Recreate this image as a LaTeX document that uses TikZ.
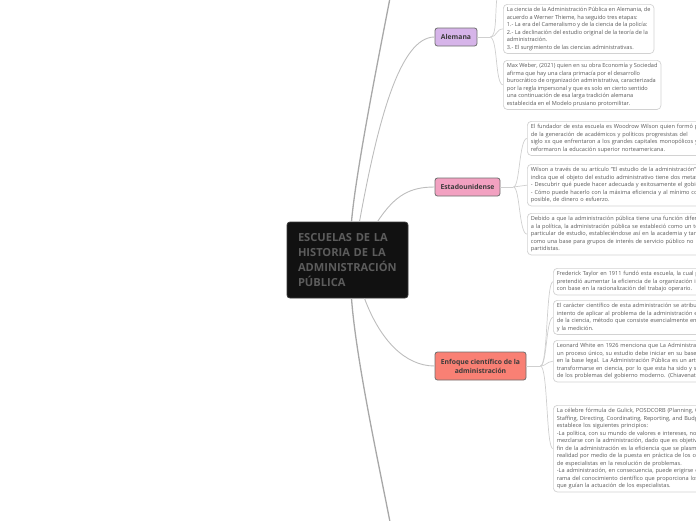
\documentclass[tikz,border=0pt]{standalone}
\usepackage{fontspec}
\setmainfont{Open Sans}
\usetikzlibrary{positioning}
\definecolor{rootfill}{HTML}{111111}
\definecolor{rootline}{HTML}{3A3A3A}
\definecolor{roottext}{HTML}{5C5C5C}
\definecolor{alefill}{HTML}{D6B4E9}
\definecolor{estfill}{HTML}{F2A1C1}
\definecolor{enffill}{HTML}{F98074}
\definecolor{branchline}{HTML}{6E6E6E}
\definecolor{branchtext}{HTML}{3B3B3B}
\definecolor{noteline}{HTML}{D2D2D2}
\definecolor{notetext}{HTML}{5A5A5A}
\definecolor{trunkgray}{HTML}{A8A8A8}
\definecolor{linkgray}{HTML}{BDBDBD}
\definecolor{twiggray}{HTML}{CFCFCF}

\begin{document}
\begin{tikzpicture}[x=1pt, y=-1pt,
    every node/.style={font=\fontsize{5.6}{7.5}\selectfont, text=notetext},
    note/.style={draw=noteline, fill=white, rounded corners=4pt, line width=0.7pt,
        anchor=north west, align=left, inner xsep=3.5pt, inner ysep=3pt},
    branch/.style={draw=branchline, line width=0.8pt, rounded corners=2.5pt,
        font=\fontsize{6.8}{9}\selectfont\bfseries, text=branchtext,
        inner sep=0pt, minimum height=18pt, align=center},
    trunk/.style={draw=trunkgray, line width=1.3pt},
    link/.style={draw=linkgray, line width=0.9pt},
    twig/.style={draw=twiggray, line width=0.7pt},
]
\useasboundingbox (0,0) rectangle (696,520);
\clip (0,0) rectangle (696,520);

% ---------------- root
\node[draw=rootline, fill=rootfill, rounded corners=3pt, line width=0.8pt,
      minimum width=121pt, minimum height=76pt, inner xsep=11pt,
      text width=99pt, align=left, text=roottext,
      font=\fontsize{11.1}{15}\selectfont\bfseries] (root) at (347.5,260)
    {ESCUELAS DE LA\\ HISTORIA DE LA\\ ADMINISTRACIÓN\\ PÚBLICA};

\node[branch, fill=alefill, minimum width=42pt] (ale) at (456,37) {Alemana};
\node[branch, fill=estfill, minimum width=65pt] (est) at (467.5,187) {Estadounidense};
\node[branch, fill=enffill, minimum width=91pt, minimum height=28pt] (enf) at (480.5,366)
    {Enfoque científico de la\\ administración};

\coordinate (uptop) at (390,-2);
\coordinate (downbot) at (390,522);
\draw[trunk] ([xshift=4pt]root.north) .. controls (356,170) and (380,50) .. (uptop);
\draw[trunk] ([xshift=4pt]root.south) .. controls (356,360) and (380,470) .. (downbot);
\draw[link] ([xshift=12pt]root.north) .. controls (378,120) and (400,37) .. (ale.west);
\draw[link] ([xshift=30pt]root.north) .. controls (395,195) and (410,187) .. (est.west);
\draw[link] ([xshift=17pt]root.south) .. controls (380,340) and (405,366) .. (enf.west);

% ---------------- Alemana
\node[note] (a1) at (503,4)
    {La ciencia de la Administración Pública en Alemania, de\\
     acuerdo a Werner Thieme, ha seguido tres etapas:\\
     1.- La era del Cameralismo y de la ciencia de la policía:\\
     2.- La declinación del estudio original de la teoría de la\\
     administración.\\
     3.- El surgimiento de las ciencias administrativas.};
\node[note] (a2) at (503,60)
    {Max Weber, (2021) quien en su obra Economía y Sociedad\\
     afirma que hay una clara primacía por el desarrollo\\
     burocrático de organización administrativa, caracterizada\\
     por la regla impersonal y que es solo en cierto sentido\\
     una continuación de esa larga tradición alemana\\
     establecida en el Modelo prusiano protomilitar.};
\draw[twig] (ale.east) -- ++(13,0) coordinate (aleb);
\coordinate (aletop) at (497,-2);
\draw[twig] (aleb) .. controls (497,37) and (495,10) .. (aletop);
\draw[twig] (aleb) .. controls (497,37) and (496,29) .. (a1.west);
\draw[twig] (aleb) .. controls (498,40) and (495,84) .. (a2.west);

% ---------------- Estadounidense
\node[note, text width=200pt] (e1) at (527,121)
    {El fundador de esta escuela es Woodrow Wilson quien formó parte\\
     de la generación de académicos y políticos progresistas del\\
     siglo xx que enfrentaron a los grandes capitales monopólicos y\\
     reformaron la educación superior norteamericana.};
\node[note, text width=200pt] (e2) at (527,164)
    {Wilson a través de su artículo "El estudio de la administración" nos\\
     indica que el objeto del estudio administrativo tiene dos metas:\\
     - Descubrir qué puede hacer adecuada y exitosamente el gobierno\\
     - Cómo puede hacerlo con la máxima eficiencia y al mínimo costo\\
     posible, de dinero o esfuerzo.};
\node[note, text width=200pt] (e3) at (527,213)
    {Debido a que la administración pública tiene una función diferente\\
     a la política, la administración pública se estableció como un tema\\
     particular de estudio, estableciéndose así en la academia y también\\
     como una base para grupos de interés de servicio público no\\
     partidistas.};
\draw[twig] (est.east) -- ++(13,0) coordinate (estb);
\draw[twig] (estb) .. controls (520,187) and (519,139) .. (e1.west);
\draw[twig] (estb) -- (e2.west);
\draw[twig] (estb) .. controls (520,187) and (519,234) .. (e3.west);

% ---------------- Enfoque
\node[note, text width=200pt] (f1) at (553,268)
    {Frederick Taylor en 1911 fundó esta escuela, la cual pretendía\\
     pretendió aumentar la eficiencia de la organización industrial\\
     con base en la racionalización del trabajo operario.};
\node[note, text width=200pt] (f2) at (553,300)
    {El carácter científico de esta administración se atribuye al\\
     intento de aplicar al problema de la administración el método\\
     de la ciencia, método que consiste esencialmente en la observación\\
     y la medición.};
\node[note, text width=200pt] (f3) at (553,340)
    {Leonard White en 1926 menciona que La Administración es\\
     un proceso único, su estudio debe iniciar en su base gerencial y no\\
     en la base legal. La Administración Pública es un arte que puede\\
     transformarse en ciencia, por lo que esta ha sido y será el centro\\
     de los problemas del gobierno moderno. (Chiavenato, 2004)};
\node[note, text width=200pt] (f4) at (553,405)
    {La célebre fórmula de Gulick, POSDCORB (Planning, Organizing,\\
     Staffing, Directing, Coordinating, Reporting, and Budgeting)\\
     establece los siguientes principios:\\
     -La política, con su mundo de valores e intereses, no debe\\
     mezclarse con la administración, dado que es objetiva y el\\
     fin de la administración es la eficiencia que se plasma en la\\
     realidad por medio de la puesta en práctica de los conocimientos\\
     de especialistas en la resolución de problemas.\\
     -La administración, en consecuencia, puede erigirse como\\
     rama del conocimiento científico que proporciona los principios\\
     que guían la actuación de los especialistas.};
\draw[twig] (enf.east) -- ++(14,0) coordinate (enfb);
\draw[twig] (enfb) .. controls (548,366) and (546,282) .. (f1.west);
\draw[twig] (enfb) .. controls (547,366) and (546,318) .. (f2.west);
\draw[twig] (enfb) .. controls (546,366) and (546,362) .. (f3.west);
\draw[twig] (enfb) .. controls (548,366) and (546,449) .. (f4.west);

\end{tikzpicture}
\end{document}
